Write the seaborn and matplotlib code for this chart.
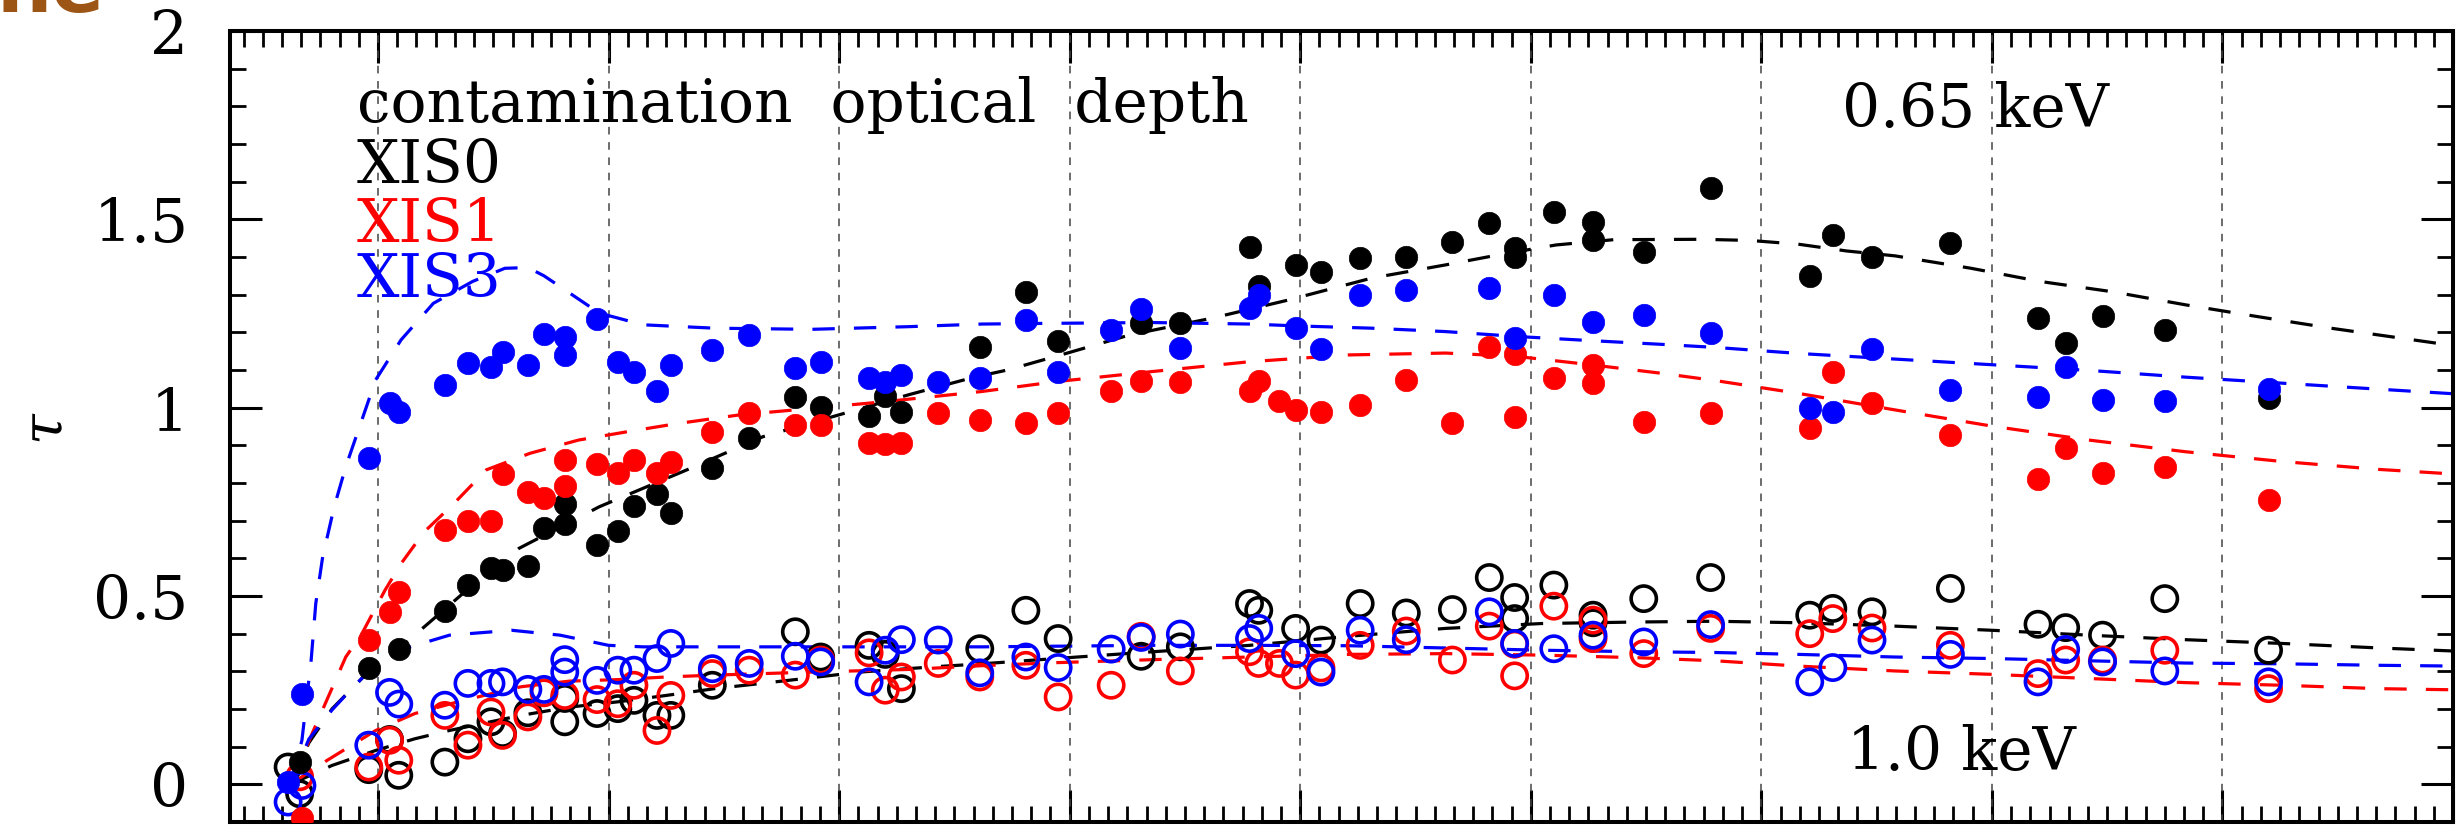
import numpy as np
import pandas as pd
import seaborn as sns
import matplotlib
matplotlib.use("Agg")
import matplotlib.pyplot as plt
from matplotlib.ticker import MultipleLocator, FuncFormatter

# --- data (x = year, y = optical depth tau) ---
# 0.65 keV (filled)
x0_065 = [2005.66, 2005.96, 2006.09, 2006.29, 2006.39, 2006.49, 2006.54, 2006.65, 2006.72, 2006.81,
          2006.81, 2006.95, 2007.04, 2007.11, 2007.21, 2007.27, 2007.45, 2007.61, 2007.81, 2007.92,
          2008.13, 2008.20, 2008.27, 2008.61, 2008.81, 2008.95, 2009.31, 2009.48, 2009.78, 2009.82,
          2009.98, 2010.09, 2010.26, 2010.46, 2010.66, 2010.82, 2010.93, 2010.93, 2011.10, 2011.27,
          2011.27, 2011.49, 2011.78, 2012.21, 2012.31, 2012.48, 2012.82, 2013.20, 2013.32, 2013.48,
          2013.75, 2014.20]
y0_065 = [0.06, 0.31, 0.36, 0.46, 0.53, 0.575, 0.57, 0.58, 0.68, 0.69,
          0.745, 0.635, 0.673, 0.738, 0.772, 0.72, 0.839, 0.919, 1.029, 1.003,
          0.979, 1.031, 0.989, 1.162, 1.306, 1.176, 1.224, 1.224, 1.426, 1.324,
          1.379, 1.359, 1.397, 1.400, 1.439, 1.490, 1.401, 1.424, 1.519, 1.494,
          1.446, 1.413, 1.583, 1.350, 1.459, 1.399, 1.437, 1.239, 1.173, 1.244,
          1.207, 1.025]

x1_065 = [2005.67, 2005.96, 2006.05, 2006.09, 2006.29, 2006.39, 2006.49, 2006.54, 2006.65, 2006.72,
          2006.81, 2006.81, 2006.95, 2007.04, 2007.11, 2007.21, 2007.27, 2007.45, 2007.61, 2007.81,
          2007.92, 2008.13, 2008.20, 2008.27, 2008.43, 2008.61, 2008.81, 2008.95, 2009.18, 2009.31,
          2009.48, 2009.78, 2009.82, 2009.91, 2009.98, 2010.09, 2010.26, 2010.46, 2010.66, 2010.82,
          2010.93, 2010.93, 2011.10, 2011.27, 2011.27, 2011.49, 2011.78, 2012.21, 2012.31, 2012.48,
          2012.82, 2013.20, 2013.32, 2013.48, 2013.75, 2014.20]
y1_065 = [-0.09, 0.383, 0.458, 0.511, 0.675, 0.70, 0.70, 0.824, 0.777, 0.759,
          0.792, 0.861, 0.850, 0.826, 0.861, 0.827, 0.857, 0.936, 0.985, 0.954,
          0.954, 0.907, 0.903, 0.907, 0.987, 0.967, 0.959, 0.987, 1.044, 1.071,
          1.067, 1.045, 1.071, 1.018, 0.994, 0.988, 1.006, 1.074, 0.959, 1.160,
          1.142, 0.974, 1.080, 1.113, 1.065, 0.963, 0.985, 0.947, 1.096, 1.013,
          0.928, 0.811, 0.894, 0.827, 0.842, 0.755]

x3_065 = [2005.61, 2005.67, 2005.96, 2006.05, 2006.09, 2006.29, 2006.39, 2006.49, 2006.54, 2006.65,
          2006.72, 2006.81, 2006.81, 2006.95, 2007.04, 2007.11, 2007.21, 2007.27, 2007.45, 2007.61,
          2007.81, 2007.92, 2008.13, 2008.20, 2008.27, 2008.43, 2008.61, 2008.81, 2008.95, 2009.18,
          2009.31, 2009.48, 2009.78, 2009.82, 2009.98, 2010.09, 2010.26, 2010.46, 2010.82, 2010.93,
          2011.10, 2011.27, 2011.49, 2011.78, 2012.21, 2012.31, 2012.48, 2012.82, 2013.20, 2013.32,
          2013.48, 2013.75, 2014.20]
y3_065 = [0.006, 0.241, 0.866, 1.012, 0.988, 1.059, 1.118, 1.109, 1.147, 1.114,
          1.195, 1.187, 1.140, 1.236, 1.122, 1.096, 1.045, 1.112, 1.153, 1.193,
          1.105, 1.122, 1.078, 1.069, 1.087, 1.067, 1.078, 1.233, 1.096, 1.207,
          1.262, 1.158, 1.264, 1.300, 1.211, 1.155, 1.300, 1.313, 1.317, 1.186,
          1.298, 1.227, 1.245, 1.199, 1.000, 0.988, 1.155, 1.047, 1.027, 1.107,
          1.020, 1.019, 1.049]

# 1.0 keV (open)
x0_10 = [2005.61, 2005.66, 2005.96, 2006.05, 2006.09, 2006.29, 2006.39, 2006.49, 2006.54, 2006.65,
         2006.81, 2006.81, 2006.95, 2007.04, 2007.11, 2007.21, 2007.27, 2007.45, 2007.81, 2007.92,
         2008.13, 2008.20, 2008.27, 2008.61, 2008.81, 2008.95, 2009.31, 2009.48, 2009.78, 2009.82,
         2009.98, 2010.09, 2010.26, 2010.46, 2010.66, 2010.82, 2010.93, 2010.93, 2011.10, 2011.27,
         2011.27, 2011.49, 2011.78, 2012.21, 2012.31, 2012.48, 2012.82, 2013.20, 2013.32, 2013.48,
         2013.75, 2014.20]
y0_10 = [0.046, -0.025, 0.039, 0.119, 0.024, 0.059, 0.121, 0.166, 0.135, 0.19,
         0.166, 0.228, 0.188, 0.201, 0.223, 0.183, 0.183, 0.263, 0.405, 0.338,
         0.369, 0.345, 0.254, 0.360, 0.462, 0.387, 0.340, 0.365, 0.480, 0.462,
         0.414, 0.383, 0.480, 0.455, 0.464, 0.549, 0.496, 0.440, 0.529, 0.449,
         0.429, 0.493, 0.549, 0.449, 0.467, 0.458, 0.520, 0.425, 0.416, 0.396,
         0.493, 0.356]

x1_10 = [2005.66, 2005.96, 2006.05, 2006.09, 2006.29, 2006.39, 2006.49, 2006.54, 2006.65, 2006.72,
         2006.81, 2006.95, 2007.04, 2007.11, 2007.21, 2007.27, 2007.45, 2007.61, 2007.81, 2007.92,
         2008.13, 2008.20, 2008.27, 2008.43, 2008.61, 2008.81, 2008.95, 2009.18, 2009.31, 2009.48,
         2009.78, 2009.82, 2009.91, 2009.98, 2010.09, 2010.26, 2010.46, 2010.66, 2010.82, 2010.93,
         2010.93, 2011.10, 2011.27, 2011.27, 2011.49, 2011.78, 2012.21, 2012.31, 2012.48, 2012.82,
         2013.20, 2013.32, 2013.48, 2013.75, 2014.20]
y1_10 = [0.02, 0.046, 0.117, 0.064, 0.183, 0.104, 0.192, 0.130, 0.179, 0.243,
         0.236, 0.225, 0.214, 0.263, 0.143, 0.236, 0.294, 0.303, 0.290, 0.330,
         0.349, 0.250, 0.285, 0.321, 0.285, 0.316, 0.232, 0.263, 0.393, 0.301,
         0.352, 0.321, 0.321, 0.290, 0.309, 0.369, 0.407, 0.330, 0.420, 0.372,
         0.288, 0.473, 0.436, 0.387, 0.347, 0.414, 0.400, 0.440, 0.415, 0.369,
         0.294, 0.330, 0.330, 0.356, 0.254]

x3_10 = [2005.61, 2005.67, 2005.96, 2006.05, 2006.09, 2006.29, 2006.39, 2006.49, 2006.54, 2006.65,
         2006.72, 2006.81, 2006.81, 2006.95, 2007.04, 2007.11, 2007.21, 2007.27, 2007.45, 2007.61,
         2007.81, 2007.92, 2008.13, 2008.20, 2008.27, 2008.43, 2008.61, 2008.81, 2008.95, 2009.18,
         2009.31, 2009.48, 2009.78, 2009.82, 2009.98, 2010.09, 2010.26, 2010.46, 2010.82, 2010.93,
         2011.10, 2011.27, 2011.49, 2011.78, 2012.21, 2012.31, 2012.48, 2012.82, 2013.20, 2013.32,
         2013.48, 2013.75, 2014.20]
y3_10 = [-0.047, -0.003, 0.104, 0.244, 0.213, 0.210, 0.268, 0.268, 0.272, 0.252,
         0.252, 0.331, 0.298, 0.276, 0.303, 0.303, 0.334, 0.374, 0.307, 0.321,
         0.340, 0.325, 0.272, 0.356, 0.384, 0.383, 0.296, 0.338, 0.310, 0.359,
         0.390, 0.399, 0.387, 0.414, 0.347, 0.298, 0.409, 0.384, 0.458, 0.374,
         0.360, 0.396, 0.378, 0.424, 0.272, 0.310, 0.383, 0.345, 0.272, 0.358,
         0.325, 0.301, 0.272]

# model curves (dashed)
m0_065_x = [2005.62, 2005.70, 2005.80, 2005.96, 2006.10, 2006.28, 2006.45, 2006.61, 2006.96, 2007.34,
            2007.67, 2008.00, 2008.30, 2008.58, 2008.73, 2008.99, 2009.26, 2009.62, 2009.95, 2010.31,
            2010.63, 2010.88, 2011.11, 2011.36, 2011.74, 2011.95, 2012.16, 2012.37, 2012.58, 2012.91,
            2013.21, 2013.52, 2013.84, 2014.15, 2014.47, 2015.0]
m0_065_y = [0.00, 0.11, 0.20, 0.30, 0.365, 0.46, 0.55, 0.626, 0.737, 0.835,
            0.923, 0.981, 1.034, 1.08, 1.10, 1.145, 1.193, 1.238, 1.286, 1.344,
            1.379, 1.408, 1.432, 1.446, 1.447, 1.444, 1.434, 1.416, 1.403, 1.370,
            1.335, 1.308, 1.273, 1.242, 1.211, 1.165]

m1_065_x = [2005.62, 2005.72, 2005.86, 2005.93, 2006.03, 2006.10, 2006.20, 2006.33, 2006.47, 2006.66,
            2006.87, 2007.08, 2007.29, 2007.57, 2007.88, 2008.20, 2008.62, 2008.94, 2009.36, 2009.78,
            2010.21, 2010.63, 2010.94, 2011.26, 2011.57, 2011.80, 2012.16, 2012.58, 2013.00, 2013.42,
            2013.84, 2014.26, 2014.68, 2015.0]
m1_065_y = [0.00, 0.143, 0.338, 0.40, 0.515, 0.586, 0.670, 0.746, 0.835, 0.879,
            0.914, 0.936, 0.957, 0.981, 0.998, 1.016, 1.043, 1.069, 1.096, 1.122,
            1.140, 1.145, 1.136, 1.114, 1.091, 1.072, 1.038, 0.994, 0.951, 0.914,
            0.883, 0.857, 0.836, 0.824]

m3_065_x = [2005.62, 2005.67, 2005.71, 2005.73, 2005.76, 2005.81, 2005.86, 2005.99, 2006.10, 2006.24,
            2006.41, 2006.55, 2006.65, 2006.72, 2006.81, 2006.96, 2007.15, 2007.46, 2007.88, 2008.30,
            2008.62, 2008.94, 2009.36, 2009.78, 2009.99, 2010.31, 2010.63, 2010.94, 2011.26, 2011.57,
            2011.80, 2012.16, 2012.58, 2013.00, 2013.42, 2013.84, 2014.26, 2014.68, 2015.0]
m3_065_y = [0.00, 0.117, 0.33, 0.48, 0.604, 0.737, 0.843, 1.074, 1.180, 1.277,
            1.335, 1.370, 1.372, 1.350, 1.313, 1.251, 1.220, 1.211, 1.208, 1.215,
            1.222, 1.224, 1.226, 1.222, 1.217, 1.211, 1.202, 1.189, 1.178, 1.168,
            1.160, 1.144, 1.129, 1.114, 1.099, 1.081, 1.065, 1.049, 1.037]

m0_10_x = [2005.62, 2005.80, 2005.99, 2006.16, 2006.31, 2006.62, 2006.83, 2007.04, 2007.25, 2007.46,
           2007.78, 2008.09, 2008.41, 2008.62, 2008.94, 2009.36, 2009.78, 2010.21, 2010.63, 2011.05,
           2011.47, 2011.80, 2012.16, 2012.58, 2013.00, 2013.42, 2013.84, 2014.26, 2014.68, 2015.0]
m0_10_y = [0.00, 0.050, 0.090, 0.121, 0.143, 0.183, 0.205, 0.219, 0.236, 0.254,
           0.276, 0.298, 0.312, 0.320, 0.334, 0.352, 0.369, 0.393, 0.414, 0.427,
           0.431, 0.433, 0.429, 0.420, 0.409, 0.396, 0.384, 0.374, 0.362, 0.354]

m1_10_x = [2005.62, 2005.78, 2005.99, 2006.16, 2006.37, 2006.62, 2006.83, 2007.04, 2007.25, 2007.46,
           2007.88, 2008.30, 2008.62, 2008.94, 2009.36, 2009.78, 2010.21, 2010.63, 2011.05, 2011.47,
           2011.80, 2012.16, 2012.58, 2013.00, 2013.42, 2013.84, 2014.26, 2014.68, 2015.0]
m1_10_y = [0.00, 0.064, 0.143, 0.188, 0.223, 0.259, 0.274, 0.278, 0.285, 0.290,
           0.298, 0.305, 0.315, 0.323, 0.331, 0.338, 0.345, 0.347, 0.343, 0.336,
           0.328, 0.314, 0.301, 0.292, 0.281, 0.270, 0.263, 0.254, 0.251]

m3_10_x = [2005.62, 2005.70, 2005.80, 2005.88, 2005.95, 2006.05, 2006.14, 2006.31, 2006.58, 2006.79,
           2007.00, 2007.15, 2008.62, 2009.36, 2009.78, 2010.21, 2010.63, 2011.05, 2011.47, 2011.80,
           2012.16, 2012.58, 2013.00, 2013.42, 2013.84, 2014.26, 2014.68, 2015.0]
m3_10_y = [0.00, 0.12, 0.197, 0.250, 0.294, 0.338, 0.365, 0.396, 0.409, 0.396,
           0.369, 0.365, 0.365, 0.369, 0.369, 0.368, 0.362, 0.356, 0.352, 0.350,
           0.345, 0.338, 0.334, 0.328, 0.322, 0.320, 0.316, 0.314]

colors = {"XIS0": "#000000", "XIS1": "#ff0000", "XIS3": "#0000ff"}

W, H = 2459, 830
fig = plt.figure(figsize=(W / 100, H / 100), dpi=100)
sns.set_style("ticks")
plt.rcParams["font.family"] = ["DejaVu Serif", "DejaVu Sans"]
plt.rcParams["mathtext.fontset"] = "dejavuserif"

# axes box in pixels: x 230..2453, y 31..822
ax = fig.add_axes([230 / W, 1 - 822 / H, (2453 - 230) / W, (822 - 31) / H])

# dotted year lines
for yr in range(2006, 2015):
    ax.axvline(yr, color="#444444", lw=1.1, ls=(0, (5, 5)), zorder=1)

dash = (0, (7, 6))
curves = [(m0_065_x, m0_065_y, "XIS0"), (m1_065_x, m1_065_y, "XIS1"), (m3_065_x, m3_065_y, "XIS3"),
          (m0_10_x, m0_10_y, "XIS0"), (m1_10_x, m1_10_y, "XIS1"), (m3_10_x, m3_10_y, "XIS3")]
for cx, cy, det in curves:
    sns.lineplot(x=cx, y=cy, color=colors[det], lw=2.3, linestyle=dash,
                 estimator=None, sort=False, ax=ax, zorder=2)

filled = [(x0_065, y0_065, "XIS0"), (x1_065, y1_065, "XIS1"), (x3_065, y3_065, "XIS3")]
opened = [(x0_10, y0_10, "XIS0"), (x1_10, y1_10, "XIS1"), (x3_10, y3_10, "XIS3")]

for px_, py_, det in opened:
    sns.scatterplot(x=px_, y=py_, s=330, facecolors="none", edgecolor=colors[det],
                    linewidth=2.6, ax=ax, zorder=3)
for px_, py_, det in filled:
    sns.scatterplot(x=px_, y=py_, color=colors[det], s=260, edgecolor=colors[det],
                    linewidth=0.5, ax=ax, zorder=4)

ax.set_xlim(2005.358, 2015.0)
ax.set_ylim(-0.1, 2.0)
ax.set_xlabel("")
ax.set_ylabel("")
ax.xaxis.set_major_locator(MultipleLocator(1))
ax.xaxis.set_minor_locator(MultipleLocator(1 / 12))
ax.yaxis.set_major_locator(MultipleLocator(0.5))
ax.yaxis.set_minor_locator(MultipleLocator(0.1))
ax.yaxis.set_major_formatter(FuncFormatter(lambda v, p: f"{v:g}"))
ax.tick_params(which="both", direction="in", top=True, right=True, bottom=True, left=True,
               labelbottom=False, labelsize=43, pad=30, colors="black")
ax.tick_params(which="major", length=23, width=2.2)
ax.tick_params(which="minor", length=11.5, width=2.0)
for sp in ax.spines.values():
    sp.set_linewidth(2.9)
    sp.set_color("black")
    sp.set_visible(True)

fs = 43
# the reference font is wider spaced, so the words get double gaps
fig.text(357 / W, 1 - 122 / H, "contamination  optical  depth", color="black", fontsize=fs,
         va="baseline")
fig.text(357 / W, 1 - 183 / H, "XIS0", color=colors["XIS0"], fontsize=fs, va="baseline")
fig.text(357 / W, 1 - 242 / H, "XIS1", color=colors["XIS1"], fontsize=fs, va="baseline")
fig.text(357 / W, 1 - 297 / H, "XIS3", color=colors["XIS3"], fontsize=fs, va="baseline")
fig.text(1842 / W, 1 - 127 / H, "0.65 keV", color="black", fontsize=fs, va="baseline")
fig.text(1847 / W, 1 - 770 / H, "1.0 keV", color="black", fontsize=fs, va="baseline")
fig.text(46 / W, 1 - 428 / H, r"$\tau$", color="black", fontsize=40, rotation=90,
         ha="center", va="center")
# cut-off piece of a title above the chart (cut in the reference too)
fig.text(105 / W, 1 - 12 / H, "ne", color="#9c5514", fontsize=56, weight="bold",
         family="DejaVu Sans", ha="right", va="baseline")

fig.savefig("out.png", dpi=100)
